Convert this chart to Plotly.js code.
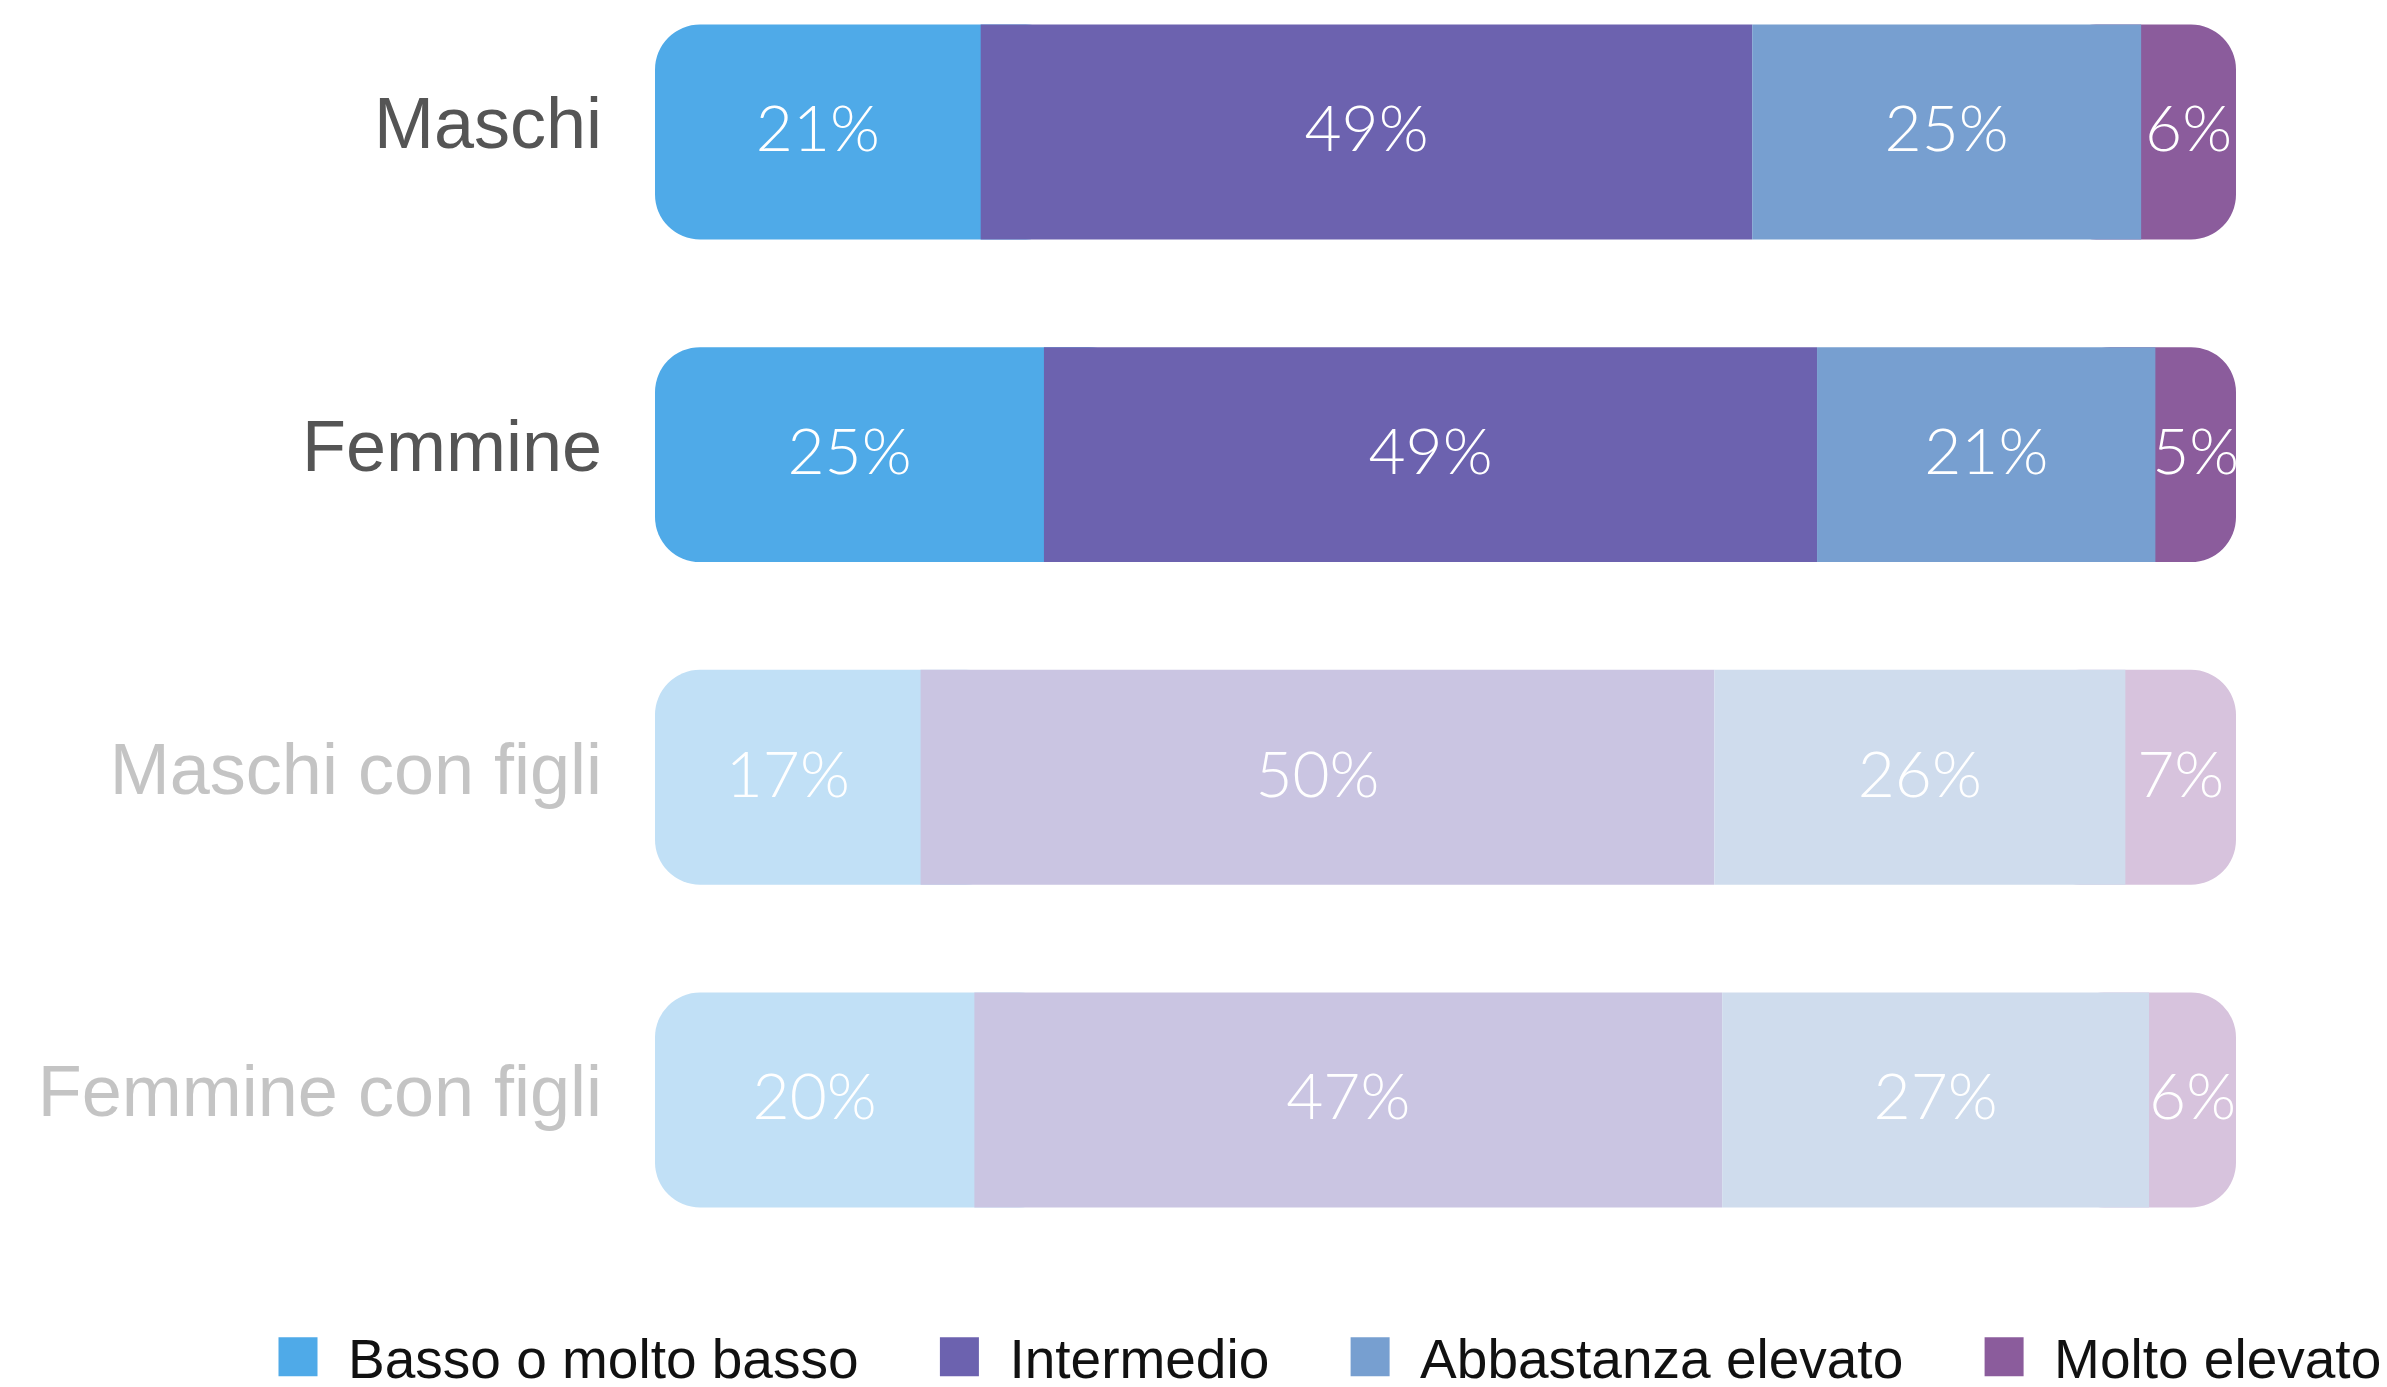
<!DOCTYPE html>
<html>
<head>
<meta charset="utf-8">
<script src="https://cdn.plot.ly/plotly-3.0.1.min.js"></script>
<style>
  html, body { margin: 0; padding: 0; overflow: hidden; background: #fff; }
  #chart { width: 2387px; height: 1420px; }
  /* bigger, plain square legend keys, like the original */
  .legend .legendpoints path {
    transform: translate(50px, 0);
    d: path("M19.5,19.5H-19.5V-19.5H19.5Z");
  }
</style>
</head>
<body>
<div id="chart"></div>
<script>
// rows, top to bottom
const categories = ['Maschi', 'Femmine', 'Maschi con figli', 'Femmine con figli'];
const faded = [false, false, true, true];

// series (percent of each row)
const seriesNames = ['Basso o molto basso', 'Intermedio', 'Abbastanza elevato', 'Molto elevato'];
const basso = [20.6, 24.6, 16.8, 20.2];
const intermedio = [48.8, 48.9, 50.2, 47.3];
const abbastanza = [24.6, 21.4, 26.0, 27.0];
const molto = [6.0, 5.1, 7.0, 5.5];

const darkColors = ['#4faae8', '#6c62af', '#779fd0', '#8b5c9c'];
const lightColors = ['#c1e0f6', '#cac5e2', '#cfdced', '#d7c3dd'];

const allSeries = [basso, intermedio, abbastanza, molto];
const last = allSeries.length - 1;

const W = 2387, H = 1420;
const MARGIN = {l: 655, r: 151, t: 0, b: 170};
const RADIUS = 45;
const BAR_W = 0.666;
// how far the rounded end pieces reach under their neighbour (data units)
const HIDE = 2 * RADIUS / ((W - MARGIN.l - MARGIN.r) / 100);

// where each segment starts along the bar
function segmentStarts() {
    let cum = categories.map(() => 0);
    return allSeries.map(vals => {
        let start = cum.slice();
        cum = cum.map((c, i) => c + vals[i]);
        return start;
    });
}

function makeTraces() {
    const starts = segmentStarts();
    let fills = [];
    allSeries.forEach((vals, s) => {
        let base = starts[s];
        let len = vals;
        // the two end segments are rounded on both ends; the inner end is
        // tucked under the neighbouring segment so only the outer end shows
        if (s === 0) {
            len = vals.map(v => v + HIDE);
        } else if (s === last) {
            base = starts[last].map(b => b - HIDE);
            len = vals.map(v => v + HIDE);
        }
        fills.push({
            type: 'bar',
            orientation: 'h',
            name: seriesNames[s] + (s < last ? '\u00a0\u00a0\u00a0' : ''),
            legendrank: s + 1,
            y: categories,
            x: len,
            base: base,
            width: BAR_W,
            marker: {
                color: faded.map(f => f ? lightColors[s] : darkColors[s]),
                line: {width: 0},
                cornerradius: (s === 0 || s === last) ? RADIUS : 0
            },
            hoverinfo: 'skip'
        });
    });
    // draw the rounded end pieces first so the inner segments cover their hidden ends
    let ordered = [fills[0], fills[last]].concat(fills.slice(1, last));

    // percentage labels on the exact segments (transparent boxes)
    let labels = allSeries.map((vals, s) => ({
        type: 'bar',
        orientation: 'h',
        showlegend: false,
        y: categories,
        x: vals,
        base: starts[s],
        width: BAR_W,
        offset: -BAR_W / 2 - 0.016,
        text: vals.map(v => Math.round(v) + '%'),
        textposition: 'inside',
        insidetextanchor: 'middle',
        textangle: 0,
        cliponaxis: false,
        textfont: {family: 'Lato, sans-serif', size: 64, color: '#ffffff', weight: 300},
        marker: {color: 'rgba(0,0,0,0)', line: {width: 0}},
        hoverinfo: 'skip'
    }));
    return ordered.concat(labels);
}

const ticktext = categories.map((c, i) =>
    faded[i] ? '<span style="color:#c4c4c4">' + c + '</span>' : c);

const layout = {
    width: W,
    height: H,
    margin: MARGIN,
    paper_bgcolor: '#ffffff',
    plot_bgcolor: '#ffffff',
    barmode: 'overlay',
    hovermode: false,
    uniformtext: {mode: 'show', minsize: 64},
    xaxis: {
        range: [0, 100],
        visible: false,
        fixedrange: true
    },
    yaxis: {
        type: 'category',
        range: [3.465, -0.409],
        tickvals: categories,
        ticktext: ticktext,
        ticks: '',
        showgrid: false,
        zeroline: false,
        showline: false,
        ticklabelstandoff: 52,
        ticklabelshift: 9,
        tickfont: {family: 'Liberation Sans, Arial, sans-serif', size: 72, color: '#555555'},
        fixedrange: true
    },
    showlegend: true,
    legend: {
        orientation: 'h',
        x: -0.255,
        xanchor: 'left',
        y: -0.0856,
        yanchor: 'middle',
        itemwidth: 90,
        traceorder: 'normal',
        font: {family: 'Liberation Sans, Arial, sans-serif', size: 55, color: '#111111'},
        bgcolor: 'rgba(0,0,0,0)'
    }
};

Plotly.newPlot('chart', makeTraces(), layout, {displayModeBar: false, staticPlot: true});
</script>
</body>
</html>
